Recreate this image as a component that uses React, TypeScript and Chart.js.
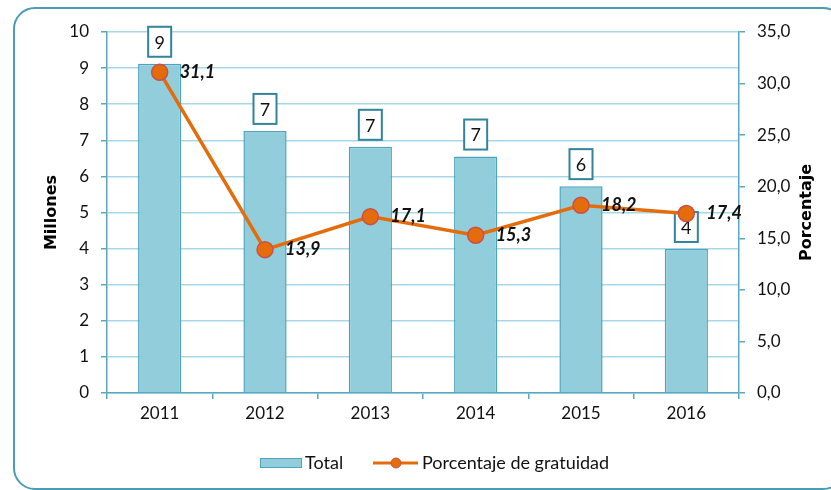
import React, { useEffect, useRef } from "react";
import { Chart, registerables } from "chart.js";

Chart.register(...registerables);

const years = ["2011", "2012", "2013", "2014", "2015", "2016"];
const totalMillones = [9.12, 7.26, 6.82, 6.55, 5.73, 3.99];
const totalLabels = ["9", "7", "7", "7", "6", "4"];
const porcentajeGratuidad = [31.1, 13.9, 17.1, 15.3, 18.2, 17.4];
const leftTicksMax = 10;
const rightTicksMax = 35;

const BAR_FILL = "#92CDDC";
const BAR_BORDER = "#4BA3BD";
const LINE_COLOR = "#E46C0A";
const POINT_BORDER = "#C9504D";
const GRID_COLOR = "#A8D8E5";
const AXIS_COLOR = "#5AA7BF";
const BOX_BORDER = "#31849B";
const TICK_FONT = "Lato";

const fmtPct = (v: number) => v.toFixed(1).replace(".", ",");

const overlayPlugin = {
  id: "overlay",
  afterDatasetDraw(chart: any, args: any) {
    const ctx = chart.ctx;
    if (args.index === 0) {
      const meta = chart.getDatasetMeta(0);
      ctx.save();
      meta.data.forEach((bar: any, i: number) => {
        const w = 23;
        const h = 30;
        const x = bar.x - w / 2;
        const y = bar.y - 7 - h;
        ctx.fillStyle = "#ffffff";
        ctx.fillRect(x, y, w, h);
        ctx.strokeStyle = BOX_BORDER;
        ctx.lineWidth = 2;
        ctx.strokeRect(x, y, w, h);
        ctx.fillStyle = "#111";
        ctx.font = `18px ${TICK_FONT}`;
        ctx.textAlign = "center";
        ctx.textBaseline = "middle";
        ctx.fillText(totalLabels[i], bar.x, y + h / 2 + 1);
      });
      ctx.restore();
    }
    if (args.index === 1) {
      const meta = chart.getDatasetMeta(1);
      ctx.save();
      ctx.fillStyle = "#111";
      ctx.font = `italic bold 18px ${TICK_FONT}`;
      ctx.textAlign = "left";
      ctx.textBaseline = "middle";
      meta.data.forEach((pt: any, i: number) => {
        ctx.fillText(fmtPct(porcentajeGratuidad[i]), pt.x + 20, pt.y);
      });
      ctx.restore();
    }
  },
  afterDraw(chart: any) {
    const ctx = chart.ctx;
    const area = chart.chartArea;
    const midY = (area.top + area.bottom) / 2;
    ctx.save();
    ctx.fillStyle = "#000";
    ctx.font = "bold 16px 'DejaVu Sans'";
    ctx.textAlign = "center";
    ctx.textBaseline = "middle";
    ctx.translate(52, midY);
    ctx.rotate(-Math.PI / 2);
    ctx.fillText("Millones", 0, 0);
    ctx.restore();

    ctx.save();
    ctx.fillStyle = "#000";
    ctx.font = "bold 16px 'DejaVu Sans'";
    ctx.textAlign = "center";
    ctx.textBaseline = "middle";
    ctx.translate(807, midY);
    ctx.rotate(-Math.PI / 2);
    ctx.fillText("Porcentaje", 0, 0);
    ctx.restore();

    // legend
    const ly = 463;
    ctx.save();
    ctx.fillStyle = BAR_FILL;
    ctx.strokeStyle = BAR_BORDER;
    ctx.lineWidth = 1;
    ctx.fillRect(260, ly - 5, 42, 10);
    ctx.strokeRect(260.5, ly - 4.5, 41, 9);
    ctx.fillStyle = "#111";
    ctx.font = `18px ${TICK_FONT}`;
    ctx.textAlign = "left";
    ctx.textBaseline = "middle";
    ctx.fillText("Total", 305, ly);
    ctx.strokeStyle = LINE_COLOR;
    ctx.lineWidth = 3;
    ctx.beginPath();
    ctx.moveTo(373, ly);
    ctx.lineTo(418, ly);
    ctx.stroke();
    ctx.beginPath();
    ctx.arc(396, ly, 5, 0, Math.PI * 2);
    ctx.fillStyle = LINE_COLOR;
    ctx.fill();
    ctx.lineWidth = 1;
    ctx.strokeStyle = POINT_BORDER;
    ctx.stroke();
    ctx.fillStyle = "#111";
    ctx.fillText("Porcentaje de gratuidad", 422, ly);
    ctx.restore();
  },
};

export default function App() {
  const ref = useRef<HTMLCanvasElement>(null);
  useEffect(() => {
    if (!ref.current) return;
    const chart = new Chart(ref.current, {
      type: "bar",
      data: {
        labels: years,
        datasets: [
          {
            type: "bar",
            label: "Total",
            data: totalMillones,
            backgroundColor: BAR_FILL,
            borderColor: BAR_BORDER,
            borderWidth: 1.5,
            barPercentage: 0.41,
            categoryPercentage: 1,
            yAxisID: "y",
            order: 1,
          },
          {
            type: "line",
            label: "Porcentaje de gratuidad",
            data: porcentajeGratuidad,
            borderColor: LINE_COLOR,
            backgroundColor: LINE_COLOR,
            borderWidth: 3.5,
            pointRadius: 8,
            pointBorderColor: POINT_BORDER,
            pointBackgroundColor: LINE_COLOR,
            pointBorderWidth: 1.5,
            tension: 0,
            yAxisID: "y1",
            order: 0,
          },
        ] as any,
      },
      options: {
        responsive: false,
        animation: false,
        layout: { padding: { top: 32, bottom: 57, left: 0, right: 0 } },
        plugins: {
          legend: { display: false },
          tooltip: { enabled: false },
        },
        scales: {
          x: {
            offset: true,
            grid: {
              offset: true,
              drawOnChartArea: false,
              tickLength: 6,
              tickColor: AXIS_COLOR,
              lineWidth: 1.5,
            },
            border: { color: AXIS_COLOR, width: 1.5 },
            ticks: {
              color: "#111",
              font: { family: TICK_FONT, size: 17 },
              padding: 4,
            },
            afterFit: (s: any) => {
              s.height = 40;
            },
          },
          y: {
            position: "left",
            min: 0,
            max: leftTicksMax,
            ticks: {
              stepSize: 1,
              color: "#111",
              font: { family: TICK_FONT, size: 17 },
              padding: 12,
            },
            grid: {
              color: GRID_COLOR,
              lineWidth: 1.5,
              tickLength: 6,
              tickColor: AXIS_COLOR,
            },
            border: { color: AXIS_COLOR, width: 1.5 },
            afterFit: (s: any) => {
              s.width = 107;
            },
          },
          y1: {
            position: "right",
            min: 0,
            max: rightTicksMax,
            ticks: {
              stepSize: 5,
              color: "#111",
              font: { family: TICK_FONT, size: 17 },
              padding: 12,
              callback: (v: any) => fmtPct(Number(v)),
            },
            grid: {
              drawOnChartArea: false,
              tickLength: 6,
              tickColor: AXIS_COLOR,
              lineWidth: 1.5,
            },
            border: { color: AXIS_COLOR, width: 1.5 },
            afterFit: (s: any) => {
              s.width = 92;
            },
          },
        },
      },
      plugins: [overlayPlugin],
    });
    return () => chart.destroy();
  }, []);

  return (
    <div style={{ position: "fixed", left: 0, top: 0, width: 831, height: 490, overflow: "hidden", background: "#fff" }}>
      <div
        style={{
          position: "absolute",
          left: 13,
          top: 7,
          width: 828,
          height: 479,
          border: "2px solid #4A9CB5",
          borderRadius: 22,
        }}
      />
      <canvas ref={ref} width={831} height={490} style={{ position: "absolute", left: 0, top: 0 }} />
    </div>
  );
}
